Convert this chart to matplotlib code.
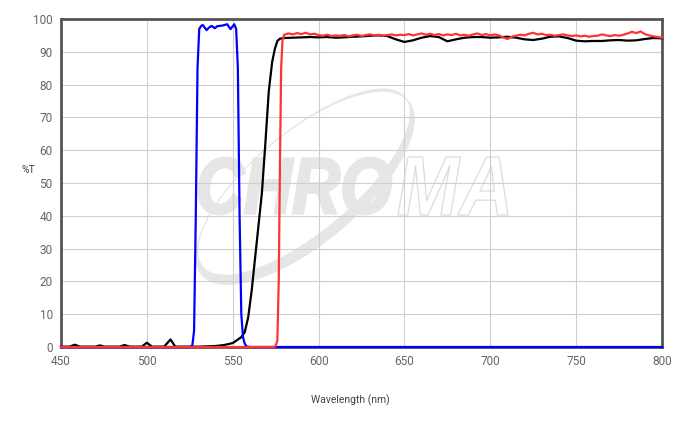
import numpy as np
import matplotlib
matplotlib.use("Agg")
import matplotlib.pyplot as plt
from matplotlib.path import Path
from matplotlib.patches import PathPatch
from matplotlib.textpath import TextPath
from matplotlib.font_manager import FontProperties
from matplotlib import transforms

plt.rcParams['font.family'] = ['Roboto', 'DejaVu Sans']

# ---------------- data ----------------
blue_wl = [450, 525, 526.5, 527.5, 528.5, 529.5, 530.5, 531.5, 532.5, 533.5, 534.8, 536,
           537.7, 539.6, 541, 544, 546.8, 548.7, 550.9, 552, 553, 554, 555, 556, 557,
           558, 560, 800]
blue_t = [0, 0, 0.5, 5, 40, 85, 97, 97.8, 98.2, 97.5, 96.6, 97.3,
          97.9, 97.2, 97.8, 98.0, 98.4, 96.9, 98.4, 97, 85, 40, 10, 3, 1,
          0.2, 0, 0]

black_wl = [450, 455, 458, 461, 470, 472.7, 475, 484, 487, 490, 497, 500, 503, 510,
            513.8, 516.5, 530, 540, 545, 550, 555, 557, 559, 561, 563, 565, 567, 569,
            571, 573, 574.6, 576, 577.5,
            580, 585, 590, 595, 600, 605, 610, 615, 620, 625, 630, 635, 640, 645,
            650, 655, 660, 665, 670, 675, 680, 685, 690, 695, 700, 705, 710, 715,
            720, 725, 730, 735, 740, 745, 750, 755, 760, 765, 770, 775, 780, 785,
            790, 795, 800]
black_t = [0.1, 0.1, 0.7, 0.1, 0.1, 0.5, 0.1, 0.1, 0.6, 0.1, 0.1, 1.3, 0.1, 0.1,
           2.3, 0.1, 0.1, 0.3, 0.6, 1.2, 3.0, 4.5, 9, 17, 27, 37, 47, 62,
           78, 87, 91, 93.3, 94.0,
           94.2, 94.3, 94.4, 94.5, 94.4, 94.5, 94.3, 94.4, 94.6, 94.7, 94.9, 95.0, 94.8, 93.8,
           93.0, 93.5, 94.3, 94.8, 94.5, 93.2, 93.8, 94.3, 94.5, 94.5, 94.3, 94.4, 94.6, 94.3,
           93.8, 93.6, 94.0, 94.6, 94.7, 94.2, 93.4, 93.2, 93.3, 93.3, 93.5, 93.6, 93.4, 93.5,
           93.9, 94.2, 94.1]

red_edge_wl = [450, 574, 575, 576, 576.8, 577.5, 578.2, 579]
red_edge_t = [0, 0, 0.3, 2, 20, 55, 85, 93.5]
red_plateau_wl = np.arange(580, 800.1, 2.5)
red_plateau_t = [95.2, 95.6, 95.3, 95.7, 95.4, 95.8, 95.3, 95.5, 95.1, 94.9,
                 95.2, 94.8, 95.0, 94.9, 95.1, 94.7, 95.0, 95.2, 94.8, 95.1,
                 95.3, 95.0, 95.2, 94.9, 95.1, 95.3, 95.0, 95.2, 95.1, 95.4,
                 95.0, 95.3, 95.6, 95.2, 95.5, 95.1, 95.4, 95.0, 95.3, 95.1,
                 95.5, 95.0, 95.2, 94.9, 95.3, 95.6, 95.1, 95.4, 95.0, 95.3,
                 95.0, 94.4, 93.9, 94.6, 94.9, 95.2, 95.0, 95.5, 95.8, 95.3,
                 95.5, 95.1, 95.2, 94.9, 95.1, 95.3, 95.0, 94.8, 95.0, 94.7,
                 94.9, 94.6, 94.8, 94.9, 95.3, 95.0, 94.8, 95.1, 94.9, 95.2,
                 95.6, 96.1, 95.7, 96.2, 95.4, 95.0, 94.7, 94.5, 94.3]

x_ticks = [450, 500, 550, 600, 650, 700, 750, 800]
y_ticks = [0, 10, 20, 30, 40, 50, 60, 70, 80, 90, 100]

# ---------------- figure ----------------
W, H = 700, 430
fig = plt.figure(figsize=(W / 100, H / 100), dpi=100)
ax = fig.add_axes([61 / W, 1 - 347 / H, (662 - 61) / W, (347 - 19) / H])

ax.set_xlim(450, 800)
ax.set_ylim(0, 100)
ax.set_xticks(x_ticks)
ax.set_yticks(y_ticks)
ax.set_axisbelow(True)
ax.grid(True, color='#cfcfcf', linewidth=0.8)
ax.tick_params(length=0, colors='#666666', labelsize=8.5, pad=6)
for s in ax.spines.values():
    s.set_color('#555555')
    s.set_linewidth(2.0)
    s.set_zorder(1.5)

# watermark, drawn in image pixel coordinates (y down)
px = transforms.Affine2D().scale(1 / W, -1 / H).translate(0, 1) + fig.transFigure
WM = '#e6e6e6'


def ell(cx, cy, a, b, ang, n=240, rev=False):
    t = np.linspace(0, 2 * np.pi, n)
    if rev:
        t = t[::-1]
    ca, sa = np.cos(np.radians(ang)), np.sin(np.radians(ang))
    x = a * np.cos(t)
    y = b * np.sin(t)
    return np.column_stack([cx + x * ca - y * sa, cy + x * sa + y * ca])


outer = ell(305, 188, 135, 55, -40)
inner = ell(304, 182, 132, 50, -40, rev=True)
verts = np.vstack([outer, inner])
codes = ([Path.MOVETO] + [Path.LINETO] * (len(outer) - 1) +
         [Path.MOVETO] + [Path.LINETO] * (len(inner) - 1))
ax.add_patch(PathPatch(Path(verts, codes), facecolor=WM, edgecolor=WM,
                       linewidth=0.5, transform=px, zorder=0.1, clip_on=False))


def word(s, x0, x1, y0, y1, filled):
    fp = FontProperties(family='Liberation Sans', weight='bold', style='italic')
    tp = TextPath((0, 0), s, size=50, prop=fp)
    ext = tp.get_extents()
    tr = (transforms.Affine2D()
          .translate(-ext.x0, -ext.y1)
          .scale((x1 - x0) / ext.width, -(y1 - y0) / ext.height)
          .translate(x0, y0))
    p = tr.transform_path(tp)
    if filled:
        patch = PathPatch(p, facecolor=WM, edgecolor=WM, linewidth=2.0,
                          transform=px, zorder=0.1, clip_on=False)
    else:
        patch = PathPatch(p, facecolor='none', edgecolor='#dcdcdc', linewidth=0.9,
                          transform=px, zorder=0.1, clip_on=False)
    ax.add_patch(patch)


word('CHRO', 199, 391, 158, 214, True)
word('MA', 398, 508, 157, 215, False)

# curves
ax.plot(black_wl, black_t, color='black', linewidth=1.6, zorder=3, clip_on=False)
ax.plot(blue_wl, blue_t, color='#0000ff', linewidth=1.6, zorder=4, clip_on=False)
red_wl = list(red_edge_wl) + list(red_plateau_wl)
red_t = list(red_edge_t) + list(red_plateau_t)
ax.plot(red_wl, red_t, color='#ff3333', linewidth=1.6, zorder=5, clip_on=False)

fig.text(22 / W, 1 - 170 / H, '%T', fontsize=7.5, color='#444444', ha='left', va='center')
fig.text(350 / W, 1 - 400 / H, 'Wavelength (nm)', fontsize=7.5, color='#444444',
         ha='center', va='center')

fig.savefig('out.png', dpi=100)
